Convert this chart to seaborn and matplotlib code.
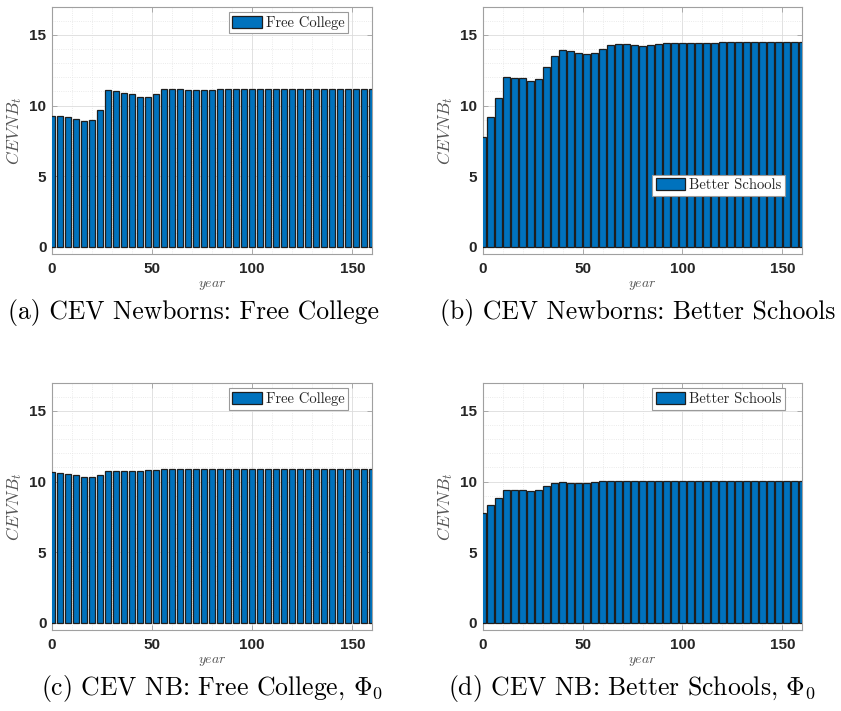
import matplotlib
matplotlib.use("Agg")
import matplotlib.pyplot as plt
import seaborn as sns
import pandas as pd
from matplotlib.patches import Patch
from matplotlib.ticker import MultipleLocator

years = [0, 4, 8, 12, 16, 20, 24, 28, 32, 36, 40, 44, 48, 52, 56, 60, 64, 68, 72, 76,
         80, 84, 88, 92, 96, 100, 104, 108, 112, 116, 120, 124, 128, 132, 136, 140,
         144, 148, 152, 156, 160]

cev_free_college = [9.26, 9.25, 9.19, 9.07, 8.93, 8.95, 9.71, 11.08, 11.06, 10.91,
                    10.80, 10.62, 10.62, 10.84, 11.17, 11.20, 11.18, 11.14, 11.09, 11.08,
                    11.10, 11.15, 11.18, 11.19, 11.18, 11.18, 11.17, 11.18, 11.19, 11.19,
                    11.19, 11.19, 11.19, 11.19, 11.19, 11.19, 11.19, 11.19, 11.19, 11.19,
                    11.19]

cev_better_schools = [7.75, 9.22, 10.52, 12.02, 11.93, 11.93, 11.72, 11.90, 12.73, 13.50,
                      13.95, 13.84, 13.75, 13.65, 13.73, 14.03, 14.28, 14.38, 14.33, 14.26,
                      14.23, 14.26, 14.36, 14.43, 14.46, 14.46, 14.45, 14.44, 14.45, 14.46,
                      14.47, 14.48, 14.48, 14.48, 14.48, 14.48, 14.48, 14.48, 14.48, 14.48,
                      14.48]

cev_free_college_phi0 = [10.71, 10.60, 10.54, 10.45, 10.33, 10.31, 10.50, 10.76, 10.72, 10.74,
                         10.76, 10.76, 10.80, 10.85, 10.87, 10.88, 10.89, 10.89, 10.89, 10.89,
                         10.89, 10.89, 10.89, 10.89, 10.89, 10.89, 10.89, 10.89, 10.89, 10.89,
                         10.89, 10.89, 10.89, 10.89, 10.89, 10.89, 10.89, 10.89, 10.89, 10.89,
                         10.89]

cev_better_schools_phi0 = [7.80, 8.32, 8.87, 9.43, 9.41, 9.38, 9.34, 9.42, 9.72, 9.92,
                           10.00, 9.93, 9.93, 9.92, 9.95, 10.02, 10.05, 10.05, 10.04, 10.03,
                           10.03, 10.04, 10.06, 10.06, 10.06, 10.06, 10.06, 10.06, 10.06, 10.06,
                           10.06, 10.06, 10.06, 10.06, 10.06, 10.06, 10.06, 10.06, 10.06, 10.06,
                           10.06]

legend_labels = ["Free College", "Better Schools", "Free College", "Better Schools"]
captions = ["(a) CEV Newborns: Free College",
            "(b) CEV Newborns: Better Schools",
            r"(c) CEV NB: Free College, $\Phi_0$",
            r"(d) CEV NB: Better Schools, $\Phi_0$"]
x_ticks = [0, 50, 100, 150]
y_ticks = [0, 5, 10, 15]

sns.set_theme(style="white")
plt.rcParams["mathtext.fontset"] = "cm"
plt.rcParams["font.family"] = ["Liberation Sans", "DejaVu Sans"]

W, H = 841, 711
fig = plt.figure(figsize=(W / 100, H / 100), dpi=100)

series = [cev_free_college, cev_better_schools, cev_free_college_phi0, cev_better_schools_phi0]
# axes rectangles in pixels: left, top, right, bottom
rects = [(52, 6.7, 372.3, 254), (482.7, 6.7, 802.3, 254),
         (52, 382.7, 372.3, 630), (482.7, 382.7, 802.3, 630)]
caption_pos = [(194, 312), (638, 312), (212, 689), (632, 689)]
legend_loc = [("upper right", (0.925, 0.979)), ("lower right", (0.947, 0.235)),
              ("upper right", (0.925, 0.977)), ("upper right", (0.947, 0.977))]

bar_color = "#0072BD"
edge_color = "#1e1e1e"
spine_color = "#a0a0a0"

for i, vals in enumerate(series):
    l, t, r, b = rects[i]
    ax = fig.add_axes([l / W, 1 - b / H, (r - l) / W, (b - t) / H])
    df = pd.DataFrame({"year": years, "cev": vals})
    sns.barplot(data=df, x="year", y="cev", native_scale=True, color=bar_color,
                saturation=1, edgecolor=edge_color, linewidth=0.9, errorbar=None,
                width=0.8, ax=ax, zorder=3)
    ax.set_xlim(0, 160)
    ax.set_ylim(-0.5, 17)
    ax.set_xticks(x_ticks)
    ax.set_yticks(y_ticks)
    ax.xaxis.set_minor_locator(MultipleLocator(10))
    ax.yaxis.set_minor_locator(MultipleLocator(1))
    ax.set_axisbelow(True)
    ax.grid(which="major", color="#dcdcdc", linewidth=0.6, linestyle="-")
    ax.grid(which="minor", color="#e4e4e4", linewidth=0.6, linestyle=":")
    for s in ax.spines.values():
        s.set_color(spine_color)
        s.set_linewidth(0.8)
        s.set_visible(True)
    ax.tick_params(which="major", direction="in", length=3.5, width=0.6,
                   color=spine_color, top=True, right=True, bottom=True, left=True)
    ax.tick_params(which="minor", length=0)
    ax.tick_params(axis="x", pad=6)
    ax.tick_params(axis="y", pad=4)
    for lab in ax.get_xticklabels() + ax.get_yticklabels():
        lab.set_fontweight("bold")
        lab.set_fontsize(11)
        lab.set_color("#262626")
    ax.set_xlabel(r"$year$", fontsize=10, color="#555555", labelpad=1)
    ax.set_ylabel(r"$CEVNB_t$", fontsize=12.5, color="#555555", labelpad=4)
    loc, anchor = legend_loc[i]
    handle = Patch(facecolor=bar_color, edgecolor=edge_color, linewidth=0.9)
    leg = ax.legend([handle], [legend_labels[i]],
                    loc=loc, bbox_to_anchor=anchor, borderaxespad=0,
                    prop={"family": "cmr10", "size": 10.5},
                    fancybox=False, framealpha=1, edgecolor="#9a9a9a",
                    handlelength=2.0, handleheight=0.9, handletextpad=0.3,
                    borderpad=0.25)
    leg.get_frame().set_linewidth(0.8)
    cx, cy = caption_pos[i]
    fig.text(cx / W, 1 - cy / H, captions[i], ha="center", va="center",
             fontsize=18.5, family="cmr10", color="black")

fig.savefig("out.png", dpi=100)
